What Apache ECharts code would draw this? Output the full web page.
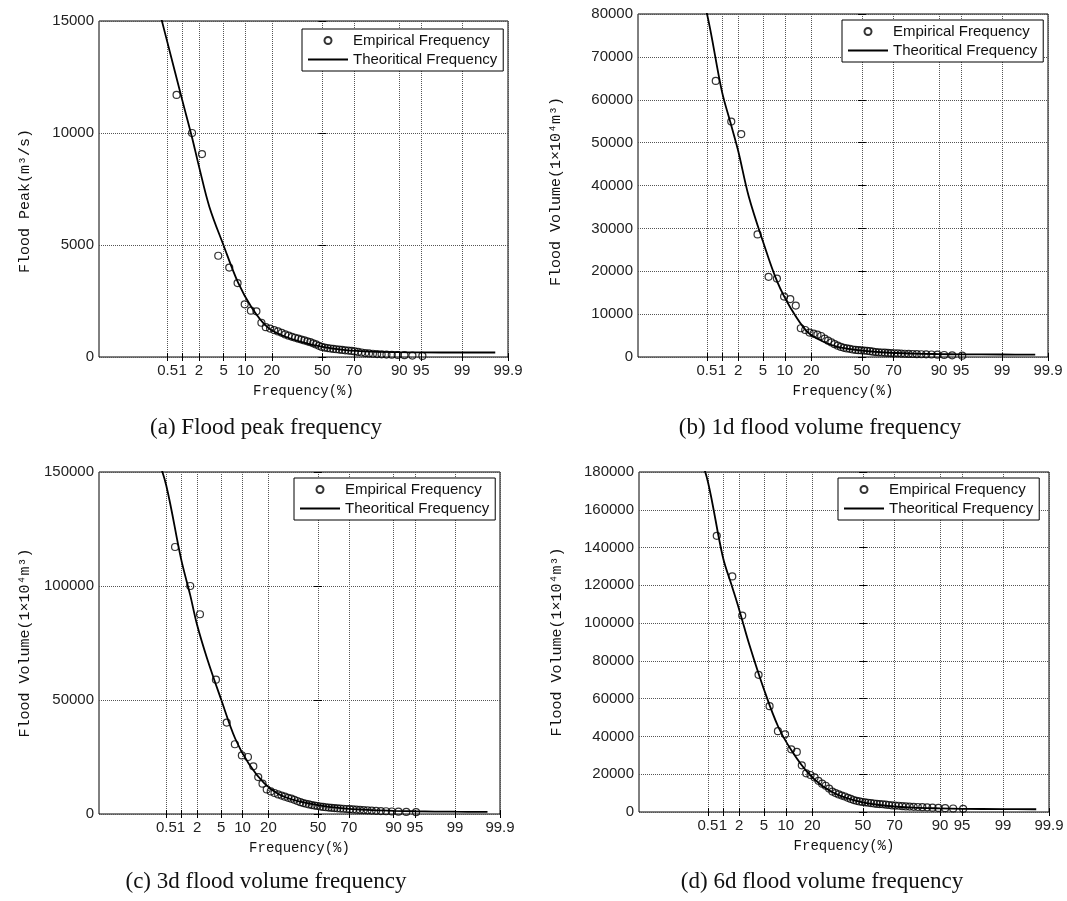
<!DOCTYPE html>
<html>
<head>
<meta charset="utf-8">
<script src="https://cdn.jsdelivr.net/npm/echarts@6/dist/echarts.min.js"></script>
<style>
html, body { margin: 0; padding: 0; background: #fff; }
#main { width: 1067px; height: 901px; }
</style>
</head>
<body>
<div id="main"></div>
<script>
// probability paper ticks (%)
const tickFreq = [0.5, 1, 2, 5, 10, 20, 50, 70, 90, 95, 99, 99.9];
const tickText = ['0.5', '1', '2', '5', '10', '20', '50', '70', '90', '95', '99', '99.9'];
const freqRange = [0.01, 99.9];

// empirical frequency (%) shared by all four samples
const empFreq = [0.76, 1.5, 2.25, 4.15, 6.05, 7.9, 9.8, 11.7, 13.6, 15.5, 17.3,
  19.2, 21.1, 23.0, 24.9, 26.8, 28.7, 30.6, 32.5, 34.4, 36.3, 38.2, 40.1, 42.0, 43.9,
  45.8, 47.7, 49.6, 51.5, 53.4, 55.3, 57.2, 59.1, 61.0, 62.9, 64.8, 66.7, 68.6, 70.5,
  72.4, 74.3, 76.2, 78.1, 80.0, 81.9, 83.8, 85.7, 87.6, 89.5, 91.4, 93.3, 95.2];

const peakEmp = [11700, 10000, 9060, 4520, 3990, 3300, 2350, 2070, 2040, 1530, 1330,
  1270, 1200, 1140, 1080, 1010, 950, 900, 860, 820, 780, 740, 700, 660, 610, 560, 500,
  450, 420, 400, 380, 360, 345, 330, 315, 300, 285, 270, 250, 225, 200, 175, 160, 145,
  130, 120, 110, 100, 90, 80, 65, 50];
const vol1Emp = [64400, 54900, 52000, 28600, 18700, 18300, 14100, 13500, 12000, 6700, 6300,
  5700, 5450, 5200, 4900, 4300, 3800, 3400, 3000, 2650, 2350, 2150, 2000, 1900, 1750,
  1650, 1600, 1550, 1500, 1450, 1350, 1250, 1150, 1100, 1050, 1000, 950, 920, 880, 850,
  800, 760, 720, 700, 670, 640, 620, 580, 540, 470, 400, 300];
const vol3Emp = [117100, 100000, 87600, 58900, 40100, 30600, 25700, 25000, 20900, 16200, 13300,
  10800, 9900, 9200, 8600, 8100, 7600, 7100, 6700, 6200, 5700, 5200, 4800, 4500, 4200,
  3900, 3700, 3500, 3300, 3100, 2950, 2800, 2700, 2600, 2500, 2400, 2300, 2200, 2100,
  2000, 1900, 1800, 1700, 1600, 1500, 1400, 1300, 1200, 1100, 1000, 900, 800];
const vol6Emp = [146200, 124700, 104000, 72600, 56000, 42800, 41100, 33200, 31800, 24700, 20500,
  19600, 18300, 16500, 15000, 13900, 12400, 10800, 10000, 9300, 8700, 8200, 7500, 6900,
  6300, 5900, 5600, 5300, 5100, 4900, 4700, 4500, 4300, 4200, 4100, 3900, 3700, 3500,
  3400, 3300, 3100, 2950, 2850, 2750, 2650, 2550, 2450, 2300, 2150, 2000, 1850, 1700];

// theoretical (fitted) curves
const theoFreq = [0.3, 0.5, 1, 1.5, 2, 3, 5, 8, 12, 18, 25, 35, 50, 65, 80, 90, 95, 99, 99.8];
const peakTheo = [15800, 14000, 11400, 9800, 8500, 6700, 4980, 3330, 2200, 1330, 970, 700, 450, 310, 240, 215, 205, 200, 200];
const vol1Theo = [88000, 80200, 62000, 54000, 48000, 37500, 27000, 17500, 11200, 6000, 3800, 2300, 1500, 1050, 800, 680, 620, 580, 570];
const vol3Theo = [158000, 144000, 112000, 96000, 83000, 68000, 50200, 33000, 22000, 13500, 8800, 6000, 3900, 2600, 1800, 1400, 1200, 1000, 950];
const vol6Theo = [192000, 175000, 135000, 119000, 107000, 88000, 65000, 45000, 32000, 20800, 13800, 8700, 5100, 3300, 2300, 1900, 1700, 1500, 1450];

// inverse standard normal (Acklam)
function probit(p) {
  const a = [-3.969683028665376e+01, 2.209460984245205e+02, -2.759285104469687e+02, 1.383577518672690e+02, -3.066479806614716e+01, 2.506628277459239e+00];
  const b = [-5.447609879822406e+01, 1.615858368580409e+02, -1.556989798598866e+02, 6.680131188771972e+01, -1.328068155288572e+01];
  const c = [-7.784894002430293e-03, -3.223964580411365e-01, -2.400758277161838e+00, -2.549732539343734e+00, 4.374664141464968e+00, 2.938163982698783e+00];
  const d = [7.784695709041462e-03, 3.224671290700398e-01, 2.445134137142996e+00, 3.754408661907416e+00];
  const pl = 0.02425;
  let q, r;
  if (p < pl) {
    q = Math.sqrt(-2 * Math.log(p));
    return (((((c[0]*q+c[1])*q+c[2])*q+c[3])*q+c[4])*q+c[5]) / ((((d[0]*q+d[1])*q+d[2])*q+d[3])*q+1);
  }
  if (p > 1 - pl) {
    q = Math.sqrt(-2 * Math.log(1 - p));
    return -(((((c[0]*q+c[1])*q+c[2])*q+c[3])*q+c[4])*q+c[5]) / ((((d[0]*q+d[1])*q+d[2])*q+d[3])*q+1);
  }
  q = p - 0.5; r = q * q;
  return (((((a[0]*r+a[1])*r+a[2])*r+a[3])*r+a[4])*r+a[5])*q / (((((b[0]*r+b[1])*r+b[2])*r+b[3])*r+b[4])*r+1);
}
const zOf = f => probit(f / 100);
const tickZ = tickFreq.map(zOf);
const pair = (fs, vs) => fs.map((f, i) => [zOf(f), vs[i]]);

const panels = [
  { emp: peakEmp, theo: peakTheo, yMax: 15000, yStep: 5000, yName: 'Flood Peak(m³/s)', nameGap: 66, namePad: 24,
    caption: '(a) Flood peak frequency', cap: [266, 428],
    grid: { left: 99, top: 21, width: 409, height: 336 }, legend: [302, 29] },
  { emp: vol1Emp, theo: vol1Theo, yMax: 80000, yStep: 10000, yName: 'Flood Volume(1×10⁴m³)', nameGap: 74, namePad: 12,
    caption: '(b) 1d flood volume frequency', cap: [820, 428],
    grid: { left: 638, top: 14, width: 410, height: 343 }, legend: [842, 20] },
  { emp: vol3Emp, theo: vol3Theo, yMax: 150000, yStep: 50000, yName: 'Flood Volume(1×10⁴m³)', nameGap: 66, namePad: 0,
    caption: '(c) 3d flood volume frequency', cap: [266, 882],
    grid: { left: 99, top: 472, width: 401, height: 342 }, legend: [294, 478] },
  { emp: vol6Emp, theo: vol6Theo, yMax: 180000, yStep: 20000, yName: 'Flood Volume(1×10⁴m³)', nameGap: 74, namePad: 0,
    caption: '(d) 6d flood volume frequency', cap: [822, 882],
    grid: { left: 639, top: 472, width: 410, height: 340 }, legend: [838, 478] }
];

const sans = 'Arial, "Liberation Sans", sans-serif';
const mono = '"Liberation Mono", "DejaVu Sans Mono", monospace';
const dotted = { show: true, lineStyle: { type: 'dotted', color: '#555', width: 1 } };
const tick = { show: true, inside: true, length: 4, lineStyle: { color: '#000', width: 1 } };
const lineIcon = 'path://M0,0L40,0L40,2L0,2Z';

const grid = [], xAxis = [], yAxis = [], series = [], legend = [], graphic = [];

panels.forEach((p, i) => {
  grid.push(Object.assign({ show: true, borderColor: '#000', borderWidth: 1, backgroundColor: '#fff',
    containLabel: false, outerBoundsMode: 'none' }, p.grid));

  const xBase = { gridIndex: i, type: 'value', min: zOf(freqRange[0]), max: zOf(freqRange[1]),
    axisLine: { show: false } };
  xAxis.push(Object.assign({}, xBase, {
    position: 'bottom',
    axisTick: Object.assign({ customValues: tickZ }, tick),
    axisLabel: {
      customValues: tickZ, margin: 6, fontSize: 15, color: '#222', fontFamily: sans,
      formatter: v => {
        const k = tickZ.findIndex(t => Math.abs(t - v) < 1e-6);
        return k >= 0 ? tickText[k] : '';
      }
    },
    splitLine: dotted,
    name: 'Frequency(%)', nameLocation: 'middle', nameGap: 27,
    nameTextStyle: { fontFamily: mono, fontSize: 14, color: '#111' }
  }));
  xAxis.push(Object.assign({}, xBase, {
    position: 'top',
    axisTick: Object.assign({ customValues: tickZ }, tick),
    axisLabel: { show: false }, splitLine: { show: false }
  }));

  const yBase = { gridIndex: i, type: 'value', min: 0, max: p.yMax, interval: p.yStep,
    axisLine: { show: false }, axisTick: tick };
  yAxis.push(Object.assign({}, yBase, {
    position: 'left',
    axisLabel: { margin: 5, fontSize: 15, color: '#222', fontFamily: sans, formatter: v => String(v) },
    splitLine: dotted,
    name: p.yName, nameLocation: 'middle', nameGap: p.nameGap,
    nameTextStyle: { fontFamily: mono, fontSize: 15, color: '#111', padding: [0, p.namePad, 0, 0] }
  }));
  yAxis.push(Object.assign({}, yBase, {
    position: 'right', axisLabel: { show: false }, splitLine: { show: false }
  }));

  series.push({
    name: 'Empirical Frequency', type: 'scatter', xAxisIndex: 2 * i, yAxisIndex: 2 * i,
    symbol: 'circle', symbolSize: 7,
    itemStyle: { color: 'rgba(255,255,255,0)', borderColor: '#000', borderWidth: 1.2 },
    data: pair(empFreq, p.emp), z: 2
  });
  series.push({
    name: 'Theoritical Frequency', type: 'line', xAxisIndex: 2 * i, yAxisIndex: 2 * i,
    symbol: 'none', showSymbol: false, smooth: 0.35,
    itemStyle: { color: '#000' },
    lineStyle: { color: '#000', width: 1.8 },
    data: pair(theoFreq, p.theo), z: 3
  });

  legend.push({
    left: p.legend[0], top: p.legend[1], orient: 'vertical', selectedMode: false,
    backgroundColor: '#fff', borderColor: '#000', borderWidth: 1, borderRadius: 0,
    padding: [4, 6, 4, 6], itemGap: 4, itemWidth: 40, itemHeight: 7,
    textStyle: { fontFamily: sans, fontSize: 15, color: '#111' },
    data: [
      { name: 'Empirical Frequency' },
      { name: 'Theoritical Frequency', icon: lineIcon, itemStyle: { color: '#000' } }
    ]
  });

  graphic.push({
    type: 'text', x: p.cap[0], y: p.cap[1],
    style: { text: p.caption, textAlign: 'center', textVerticalAlign: 'middle',
      font: '23px "Times New Roman", "Liberation Serif", serif', fill: '#111' }
  });
});

const chart = echarts.init(document.getElementById('main'));
chart.setOption({
  backgroundColor: '#fff',
  animation: false,
  grid, xAxis, yAxis, series, legend, graphic
});
window.addEventListener('resize', () => chart.resize());
</script>
</body>
</html>
